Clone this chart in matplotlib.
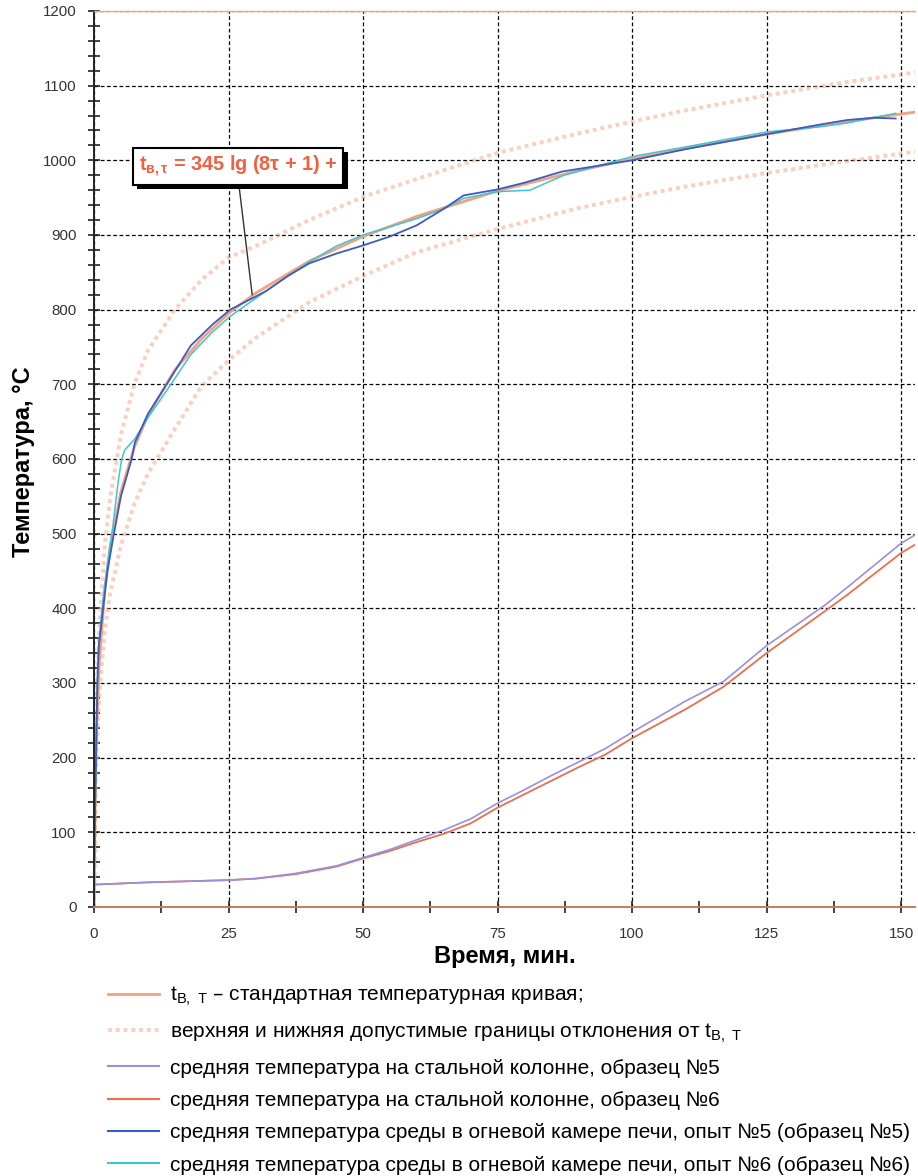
import matplotlib
matplotlib.use('Agg')
import matplotlib.pyplot as plt
from matplotlib.lines import Line2D
from matplotlib.ticker import MultipleLocator
from matplotlib import patheffects

plt.rcParams['font.family'] = ['Liberation Sans', 'DejaVu Sans']

# стандартная кривая и границы (читано с графика)
t_std = [0, 0.25, 0.5, 1, 2, 3, 5, 7.5, 10, 15, 20, 25, 30, 40, 50, 60, 75, 90, 100, 110, 125, 140, 153]
temp_std = [0, 165, 241, 329, 425, 482, 556, 616, 658, 719, 761, 795, 822, 865, 898, 925, 959, 986, 1002, 1016, 1035, 1052, 1065]
temp_upper = [0, 188, 275, 375, 485, 548, 632, 700, 745, 800, 840, 870, 885, 920, 951, 975, 1010, 1036, 1052, 1067, 1087, 1105, 1118]
temp_lower = [0, 143, 210, 286, 370, 420, 484, 540, 580, 640, 698, 732, 762, 810, 845, 877, 908, 936, 951, 965, 983, 999, 1012]

# температура на стальной колонне
t_steel = [0, 10, 20, 25, 30, 37.5, 45, 50, 55, 60, 65, 70, 75, 80, 85, 90, 95, 100, 110, 117, 125, 136, 140, 150, 153]
steel5 = [30, 33, 35, 36, 38, 45, 55, 66, 77, 90, 103, 118, 139, 157, 176, 194, 212, 234, 276, 302, 350, 405, 428, 487, 500]
steel6 = [30, 33, 35, 36, 38, 44, 54, 65, 75, 87, 98, 112, 133, 151, 169, 187, 204, 226, 265, 295, 340, 397, 418, 474, 487]

# температура среды в печи
t_f5 = [0, 0.13, 0.37, 0.63, 0.9, 1.7, 2.5, 3.7, 5, 7, 7.6, 10, 13.5, 18, 22, 25.3, 28, 32, 36, 40, 45, 50, 55,
        60, 65, 68.7, 75, 80, 87, 100, 110, 125, 135, 140, 145, 149]
furn5 = [30, 100, 200, 300, 350, 400, 450, 500, 550, 600, 622, 660, 700, 752, 780, 800, 810, 825, 845, 862, 875, 886, 898,
         913, 935, 953, 961, 970, 985, 1000, 1015, 1035, 1048, 1054, 1057, 1056]
t_f6 = [0, 0.13, 0.37, 0.63, 0.85, 1.5, 2.5, 3.5, 4.5, 5.1, 5.7, 7.6, 10, 14.3, 18, 22, 25.3, 30, 35, 40, 45, 50, 55,
        60, 65, 68.7, 75, 81, 87.3, 100, 110, 125, 135, 140, 149]
furn6 = [30, 100, 200, 300, 350, 400, 460, 510, 570, 598, 612, 627, 655, 700, 740, 770, 791, 815, 840, 864, 885, 900, 911,
         922, 935, 949, 958, 960, 980, 1005, 1018, 1038, 1045, 1050, 1063]

labels = [
    r't$_{\mathregular{В,\ Т}}$ – стандартная температурная кривая;',
    r'верхняя и нижняя допустимые границы отклонения от t$_{\mathregular{В,\ Т}}$',
    'средняя температура на стальной колонне, образец №5',
    'средняя температура на стальной колонне, образец №6',
    'средняя температура среды в огневой камере печи, опыт №5 (образец №5)',
    'средняя температура среды в огневой камере печи, опыт №6 (образец №6)',
]

c_std = '#f7a07c'
c_s5 = '#9a8fe0'
c_s6 = '#e8704c'
c_f5 = '#3a5cc4'
c_f6 = '#3ec4d6'

fig = plt.figure(figsize=(9.18, 11.76), dpi=100)
ax = fig.add_axes([94 / 918, 1 - 907 / 1176, (915 - 94) / 918, (907 - 11) / 1176])

ax.plot(t_std, temp_upper, color=c_std, lw=2.8, ls=(0, (1, 1)), alpha=0.5)
ax.plot(t_std, temp_lower, color=c_std, lw=2.8, ls=(0, (1, 1)), alpha=0.5)
ax.plot(t_std, temp_std, color=c_std, lw=2)
ax.plot(t_steel, steel6, color=c_s6, lw=1.3)
ax.plot(t_steel, steel5, color=c_s5, lw=1.2)
ax.plot(t_f6, furn6, color=c_f6, lw=1.1)
ax.plot(t_f5, furn5, color=c_f5, lw=1.3)

ax.set_xlim(0, 152.6)
ax.set_ylim(0, 1200)
ax.xaxis.set_major_locator(MultipleLocator(25))
ax.xaxis.set_minor_locator(MultipleLocator(12.5))
ax.yaxis.set_major_locator(MultipleLocator(100))
ax.yaxis.set_minor_locator(MultipleLocator(20))
ax.grid(True, which='major', color='black', ls=(0, (3, 2)), lw=0.9)
ax.tick_params(which='both', direction='inout', length=9, width=1.2, color='#222222',
               labelsize=10.8, labelcolor='#333333')
ax.tick_params(axis='y', pad=8)
ax.tick_params(axis='x', pad=10)

ax.spines['right'].set_visible(False)
ax.spines['top'].set_color('#e8a888')
ax.spines['top'].set_linewidth(1)
ax.spines['bottom'].set_color('#c87a5a')
ax.spines['left'].set_color('#222222')
for s in ['bottom', 'left']:
    ax.spines[s].set_linewidth(1.4)

ax.set_ylabel('Температура, °С', fontsize=17, fontweight='bold')
ax.set_xlabel('Время, мин.', fontsize=17, fontweight='bold')
ax.yaxis.set_label_coords(-0.072, 0.497)
ax.xaxis.set_label_coords(0.5, -0.042)

ann = ax.annotate(r't$_{\mathregular{в,τ}}$ = 345 lg (8τ + 1) +', xy=(29.4, 820), xytext=(26.8, 992),
                  ha='center', va='center', fontsize=14.3, fontweight='bold', color='#f2613f',
                  bbox=dict(boxstyle='square,pad=0.3', fc='white', ec='black', lw=1.5),
                  arrowprops=dict(arrowstyle='-', color='#333333', lw=1, relpos=(0.5, 0), shrinkA=0, shrinkB=0))
ann.get_bbox_patch().set_path_effects([
    patheffects.withSimplePatchShadow(offset=(3, -3), shadow_rgbFace='black', alpha=1)])

handles = [
    Line2D([], [], color=c_std, lw=2),
    Line2D([], [], color=c_std, lw=2.8, ls=(0, (1, 1)), alpha=0.5),
    Line2D([], [], color=c_s5, lw=1.5),
    Line2D([], [], color=c_s6, lw=1.5),
    Line2D([], [], color=c_f5, lw=1.5),
    Line2D([], [], color=c_f6, lw=1.5),
]
fig.legend(handles, labels, loc='upper left', bbox_to_anchor=(108 / 918, 1 - 985 / 1176),
           frameon=False, fontsize=15, handlelength=2.45, handletextpad=0.55,
           labelspacing=0.64, borderpad=0, borderaxespad=0)

fig.savefig('out.png', dpi=100, facecolor='white')
